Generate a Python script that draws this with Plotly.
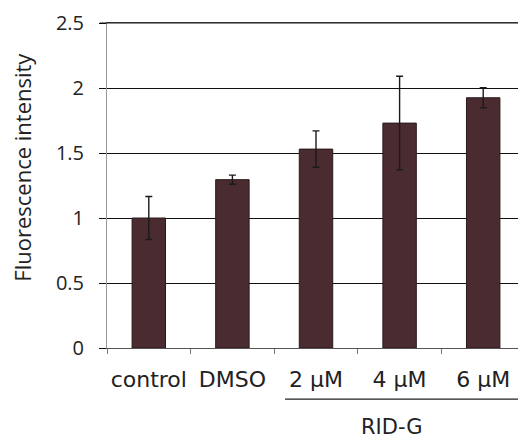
import plotly.graph_objects as go

categories = ["control", "DMSO", "2 µM", "4 µM", "6 µM"]
values = [1.0, 1.295, 1.53, 1.73, 1.925]
errors = [0.165, 0.035, 0.14, 0.36, 0.078]
group_label = "RID-G"
y_title = "Fluorescence intensity"
y_ticks = [0, 0.5, 1, 1.5, 2, 2.5]
y_tick_text = ["0", "0.5", "1", "1.5", "2", "2.5"]

fig = go.Figure()
fig.add_trace(go.Bar(
    x=categories, y=values,
    marker=dict(color="#4a2b30", line=dict(color="#2a1a1d", width=1)),
    error_y=dict(type="data", array=errors, visible=True, color="#1a1a1a",
                 thickness=1.4, width=3.5),
    width=0.4,
))

# page body has an 8px margin, so the figure is sized to fit the window
fig.update_layout(
    width=518, height=431,
    margin=dict(l=99, r=1, t=15, b=91),
    paper_bgcolor="white", plot_bgcolor="white",
    showlegend=False,
    font=dict(family="DejaVu Sans", color="#222222"),
)
fig.update_xaxes(
    type="category", automargin=False, tickangle=0,
    showline=True, mirror=True, linecolor="#555555", linewidth=1,
    ticks="outside", tickson="boundaries", ticklen=5, tickcolor="#777777",
    tickfont=dict(size=22, family="DejaVu Sans", color="#222222"),
    ticklabelstandoff=12,
    showgrid=False,
)
fig.update_yaxes(
    range=[0, 2.5], tickvals=y_ticks, ticktext=y_tick_text, automargin=False,
    showgrid=True, gridcolor="#111111", gridwidth=1,
    ticks="outside", ticklen=7, tickcolor="#111111",
    showline=True, linecolor="#999999", linewidth=1,
    tickfont=dict(size=20, family="Open Sans", color="#222222"),
    ticklabelstandoff=11,
    zeroline=False,
)

# top gridline sits on the plot edge, where Plotly skips the grid
fig.add_shape(type="line", xref="paper", yref="paper", x0=-0.017, x1=1, y0=1, y1=1,
              line=dict(color="#111111", width=1), layer="above")

fig.add_annotation(text=y_title, xref="paper", yref="paper",
                   x=-0.204, y=0.557, textangle=-90, showarrow=False,
                   font=dict(size=22, family="Open Sans", color="#222222"),
                   xanchor="center", yanchor="middle")

n = len(categories)
fig.add_shape(type="line", xref="x", yref="paper",
              x0=2 - 0.37, x1=n - 1 + 0.42, y0=-0.157, y1=-0.157,
              line=dict(color="#222222", width=1.2))
fig.add_annotation(text=group_label, xref="x", yref="paper",
                   x=2.91, y=-0.243, showarrow=False,
                   font=dict(size=21, family="DejaVu Sans", color="#222222"),
                   xanchor="center", yanchor="middle")

fig.write_html("out.html")
